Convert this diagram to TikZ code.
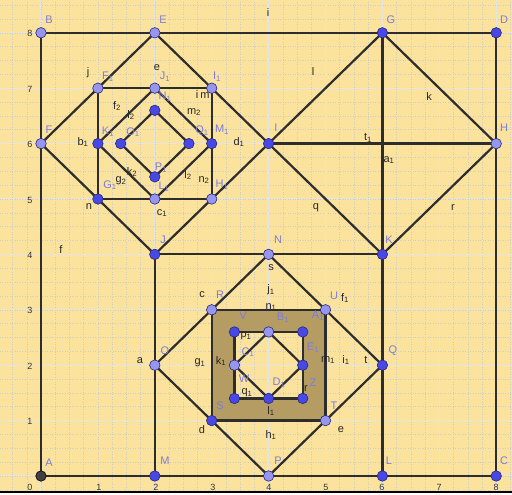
\documentclass[tikz,border=0pt]{standalone}
\usepackage{fontspec}
\setmainfont{Liberation Sans}
\definecolor{bgc}{RGB}{251,227,158}
\definecolor{olv}{RGB}{180,156,98}
\definecolor{ptd}{RGB}{72,72,228}
\definecolor{ptl}{RGB}{150,150,238}
\definecolor{ptb}{RGB}{40,40,120}
\definecolor{plab}{RGB}{125,125,215}
\definecolor{lnc}{RGB}{45,45,45}
\definecolor{grdmaj}{RGB}{228,228,225}
\definecolor{grdmin}{RGB}{205,205,200}
\newcommand\sbs[1]{\textsubscript{#1}}
\begin{document}
\begin{tikzpicture}[x=56.9pt,y=55.4pt,
  pd/.style={circle,draw=ptb,line width=0.6pt,fill=ptd,inner sep=0pt,minimum size=10.5pt},
  pl/.style={pd,fill=ptl},
  seg/.style={draw=lnc,line width=2.2pt,line join=round},
  plb/.style={text=plab,font=\fontsize{11}{11}\selectfont,inner sep=0pt},
  llb/.style={text=black!85,font=\fontsize{11}{11}\selectfont,inner sep=0pt},
  tk/.style={text=black!80,font=\fontsize{9}{9}\selectfont,inner sep=0pt}]
\useasboundingbox (-0.72056,-0.34296) rectangle (8.27768,8.5921);
\fill[bgc] (-0.72056,-0.34296) rectangle (8.27768,8.5921);
\draw[grdmin,line width=0.5pt,dotted,step=0.25] (-0.72056,-0.34296) grid (8.27768,8.5921);
\draw[grdmaj,line width=1pt,step=1] (-0.72056,-0.34296) grid (8.27768,8.5921);
% points
\foreach \n/\x/\y in {A/0/0,B/0/8,C/8/0,D/8/8,E/2/8,F/0/6,G/6/8,H/8/6,I/4/6,J/2/4,K/6/4,N/4/4,M/2/0,L/6/0,P/4/0,O/2/2,Q/6/2,R/3/3,U/5/3,S/3/1,T/5/1,
  F1/1/7,I1/3/7,H1/3/5,G1/1/5,J1/2/7,K1/1/6,L1/2/5,M1/3/6,N1/2/6.6,O1/1.4/6,P1/2/5.4,Q1/2.6/6,
  V/3.4/2.6,A1/4.6/2.6,Z/4.6/1.4,W/3.4/1.4,B1/4/2.6,C1/3.4/2,D1/4/1.4,E1/4.6/2}
  \coordinate (\n) at (\x,\y);
% filled ring
\fill[olv,even odd rule] (R) -- (U) -- (T) -- (S) -- cycle (V) -- (A1) -- (Z) -- (W) -- cycle;
% segments
\draw[seg] (A) -- (B);
\draw[seg] (B) -- (D);
\draw[seg] (D) -- (C);
\draw[seg] (C) -- (A);
\draw[seg] (E) -- (F) -- (J) -- (I) -- cycle;
\draw[seg] (F1) -- (I1) -- (H1) -- (G1) -- cycle;
\draw[seg] (J1) -- (K1) -- (L1) -- (M1) -- cycle;
\draw[seg] (N1) -- (O1) -- (P1) -- (Q1) -- cycle;
\draw[seg] (G) -- (I) -- (K) -- (H) -- cycle;
\draw[seg] (G) -- (K);
\draw[seg] (I) -- (H);
\draw[seg] (J) -- (K);
\draw[seg] (J) -- (M);
\draw[seg] (K) -- (L);
\draw[seg] (N) -- (O) -- (P) -- (Q) -- cycle;
\draw[seg] (R) -- (U) -- (T) -- (S) -- cycle;
\draw[seg] (V) -- (A1) -- (Z) -- (W) -- cycle;
\draw[seg] (B1) -- (C1) -- (D1) -- (E1) -- cycle;
% markers
\foreach \n in {C,D,G,I,J,K,M,L,Q,S,G1,K1,M1,N1,O1,P1,Q1,V,A1,Z,W,D1,E1}
  \node[pd] (m\n) at (\n) {};
\foreach \n in {B,E,F,H,N,P,O,R,U,T,F1,I1,H1,J1,L1,B1,C1}
  \node[pl] (m\n) at (\n) {};
\node[pd,fill=black!75,draw=black] (mA) at (A) {};
% labels in pixel coordinates
\begin{scope}[x=1pt,y=-1pt,shift={(-41pt,476pt)}]
\foreach \t/\p/\q [count=\k] in {B/49/20,E/163/20,G/391/20,D/504/20,
  F\sbs{1}/108/77,J\sbs{1}/165/77,I\sbs{1}/217/77,
  F/49/130,K\sbs{1}/108/132,O\sbs{1}/133/132,Q\sbs{1}/202/131,M\sbs{1}/222/130,I/276/128,H/504/128,
  N\sbs{1}/165/97,P\sbs{1}/161/168,G\sbs{1}/110/185,L\sbs{1}/164/187,H\sbs{1}/222/185,
  J/163/240,N/278/240,K/389/240,
  R/220/295,U/334/296,V/243/316,B\sbs{1}/283/318,A\sbs{1}/318/316,
  O/165/351,C\sbs{1}/248/352,E\sbs{1}/313/348,Q/393/351,
  W/244/379,D\sbs{1}/279/383,Z/313/383,
  S/220/406,T/334/406,
  A/49/463,M/165/461,P/278/461,L/389/461,C/504/461}
  \node[plb] (pl\k) at (\p,\q) {\t};
\foreach \t/\p/\q [count=\k] in {i/268/13,f/61/250,j/88/73,e/157/68,n/89/207,
  b\sbs{1}/83/142,c\sbs{1}/162/213,d\sbs{1}/239/142,
  f\sbs{2}/117/106,l\sbs{2}/131/115,i/197/95,m/205/96,m\sbs{2}/194/112,
  k\sbs{2}/132/172,l\sbs{2}/188/175,n\sbs{2}/204/180,g\sbs{2}/121/181,
  l/313/72,k/429/97,t\sbs{1}/368/138,a\sbs{1}/389/160,q/316/208,r/453/208,
  s/271/268,j\sbs{1}/271/290,f\sbs{1}/345/298,n\sbs{1}/271/307,
  c/202/295,a/140/361,g\sbs{1}/200/363,k\sbs{1}/221/361,
  p\sbs{1}/246/336,q\sbs{1}/247/393,d/202/430,
  m\sbs{1}/328/360,i\sbs{1}/346/360,t/366/360,r/306/389,
  l\sbs{1}/271/411,h\sbs{1}/271/435,e/341/430}
  \node[llb] (ll\k) at (\p,\q) {\t};
\foreach \t/\p [count=\k] in {0/30,1/99,2/156,3/213,4/269,5/326,6/382,7/439,8/496}
  \node[tk] (tx\k) at (\p,487) {\t};
\foreach \t/\q [count=\k] in {1/421,2/366,3/310,4/255,5/200,6/144,7/89,8/33}
  \node[tk] (ty\k) at (30,\q) {\t};
\fill[white] (0,492) rectangle (512,495);
\draw[black,line width=1.2pt] (0,492) -- (512,492);
\end{scope}
\end{tikzpicture}
\end{document}
